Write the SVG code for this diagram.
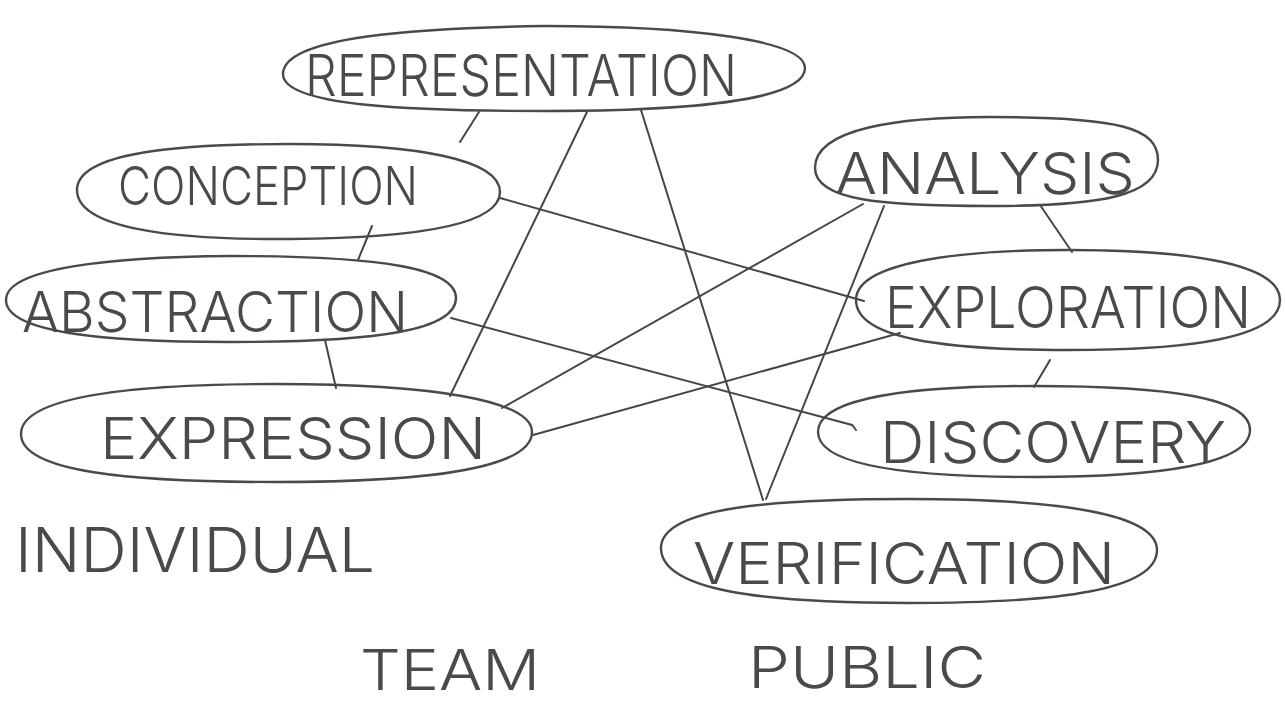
<svg xmlns="http://www.w3.org/2000/svg" width="1285" height="708" viewBox="0 0 1285 708">
  <style>
    .bubble { fill: none; stroke: #4a4a46; stroke-width: 2.4; stroke-linecap: round; stroke-linejoin: round; }
    .lbl { font-family: Inter, "Liberation Sans", sans-serif; font-weight: 300; fill: #4a4a46; }
    .link { stroke: #464642; stroke-width: 2; fill: none; stroke-linecap: round; }
  </style>
  <rect width="1285" height="708" fill="#ffffff"/>

  <!-- connectors -->
  <g id="connectors" class="link">
    <line x1="479" y1="112" x2="460" y2="142"/>
    <line x1="587" y1="112" x2="450" y2="396"/>
    <line x1="641" y1="110" x2="763" y2="500"/>
    <line x1="372" y1="226" x2="358" y2="260"/>
    <line x1="325" y1="340" x2="336" y2="388"/>
    <line x1="500" y1="198" x2="864" y2="301"/>
    <line x1="863" y1="204" x2="502" y2="408"/>
    <line x1="884" y1="206" x2="766" y2="499"/>
    <path d="M451 318 L852 425 L856 430"/>
    <line x1="900" y1="333" x2="533" y2="435"/>
    <line x1="1040" y1="205" x2="1072" y2="252"/>
    <line x1="1050" y1="360" x2="1034" y2="387"/>
  </g>

  <!-- nodes -->
  <g id="representation">
    <path class="bubble" d="M283 74 C283 36 420 28 545 26 C690 26 805 40 805 68 C805 100 690 111 545 111 C410 111 283 106 283 74 Z"/>
    <text class="lbl" x="305" y="96" font-size="58" textLength="432" lengthAdjust="spacingAndGlyphs">REPRESENTATION</text>
  </g>
  <g id="conception">
    <path class="bubble" d="M77 190 C77 152 180 144 290 144 C420 144 500 160 500 192 C500 226 410 238 290 239 C170 240 77 228 77 190 Z"/>
    <text class="lbl" x="118" y="205" font-size="54" textLength="300" lengthAdjust="spacingAndGlyphs">CONCEPTION</text>
  </g>
  <g id="abstraction">
    <path class="bubble" d="M6 300 C6 268 110 257 230 256 C380 256 456 268 456 298 C456 330 380 342 230 342 C100 342 6 332 6 300 Z"/>
    <text class="lbl" x="22" y="332" font-size="56" textLength="386" lengthAdjust="spacingAndGlyphs">ABSTRACTION</text>
  </g>
  <g id="expression">
    <path class="bubble" d="M21 434 C21 395 140 384 276 384 C430 384 532 400 532 432 C532 468 430 482 276 482 C130 482 21 472 21 434 Z"/>
    <text class="lbl" x="100" y="459" font-size="58" textLength="386" lengthAdjust="spacingAndGlyphs">EXPRESSION</text>
  </g>
  <g id="analysis">
    <path class="bubble" d="M815 168 C815 128 900 117 990 117 C1120 117 1158 128 1158 160 C1158 196 1100 206 990 206 C880 206 815 200 815 168 Z"/>
    <text class="lbl" x="835" y="194" font-size="58" textLength="300" lengthAdjust="spacingAndGlyphs">ANALYSIS</text>
  </g>
  <g id="exploration">
    <path class="bubble" d="M856 300 C856 262 960 250 1068 250 C1200 250 1280 266 1280 300 C1280 338 1190 350 1068 350 C940 350 856 338 856 300 Z"/>
    <text class="lbl" x="885" y="328" font-size="58" textLength="366" lengthAdjust="spacingAndGlyphs">EXPLORATION</text>
  </g>
  <g id="discovery">
    <path class="bubble" d="M818 432 C818 396 920 386 1034 386 C1170 386 1250 398 1250 430 C1250 464 1160 477 1034 477 C910 477 818 466 818 432 Z"/>
    <text class="lbl" x="880" y="463" font-size="58" textLength="346" lengthAdjust="spacingAndGlyphs">DISCOVERY</text>
  </g>
  <g id="verification">
    <path class="bubble" d="M661 548 C661 508 770 499 908 499 C1060 499 1157 514 1157 550 C1157 590 1060 603 908 603 C760 603 661 590 661 548 Z"/>
    <text class="lbl" x="693" y="584" font-size="58" textLength="422" lengthAdjust="spacingAndGlyphs">VERIFICATION</text>
  </g>

  <!-- group captions -->
  <g id="captions">
    <text class="lbl" x="360" y="690" font-size="56" textLength="180" lengthAdjust="spacingAndGlyphs">TEAM</text>
    <text class="lbl" x="748" y="688" font-size="58" textLength="238" lengthAdjust="spacingAndGlyphs">PUBLIC</text>
    <text class="lbl" x="15" y="572" font-size="62" textLength="360" lengthAdjust="spacingAndGlyphs">INDIVIDUAL</text>
  </g>
</svg>
